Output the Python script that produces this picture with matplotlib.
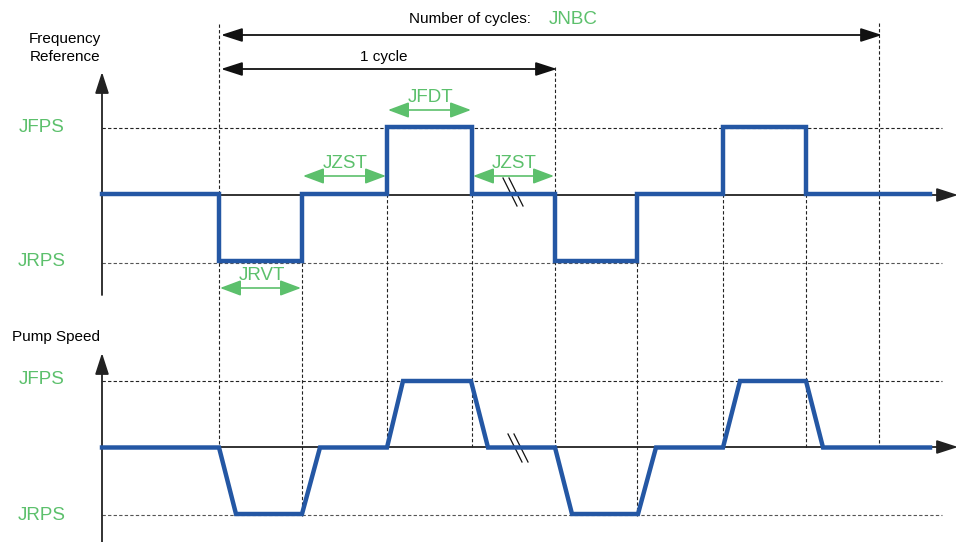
import matplotlib
matplotlib.use("Agg")
import matplotlib.pyplot as plt
from matplotlib.patches import FancyArrowPatch

plt.rcParams['font.family'] = ['Liberation Sans', 'DejaVu Sans']

# ---- data (time in diagram units, levels: 1 = JFPS, 0 = stop, -1 = JRPS) ----
t_start, t_end = 102, 930
events = [219, 302, 387, 472, 555, 637, 723, 806]   # frequency reference step times
ref_levels = [0, -1, 0, 1, 0, -1, 0, 1, 0]
pump_t = [102, 219, 236, 302, 320, 387, 403, 471, 488, 555, 572, 638, 656, 723, 740, 806, 823, 930]
pump_v = [0, 0, -1, -1, 0, 0, 1, 1, 0, 0, -1, -1, 0, 0, 1, 1, 0, 0]
t_final = 879
level_labels = ["JFPS", "JRPS"]
param_labels = ["JRVT", "JZST", "JFDT", "JZST"]

W, H = 965, 542
BLUE = '#2457A4'
GREEN = '#5CC06C'

fig = plt.figure(figsize=(W / 100, H / 100), dpi=100)
ov = fig.add_axes([0, 0, 1, 1])
ov.set_xlim(0, W); ov.set_ylim(H, 0); ov.axis('off')

def panel(y_hi, y_lo):
    ax = fig.add_axes([0, 1 - y_lo / H, 1, (y_lo - y_hi) / H])
    ax.set_xlim(0, W); ax.set_ylim(-1, 1); ax.axis('off')
    ax.patch.set_alpha(0)
    return ax

ax_top = panel(127, 261)
ax_bot = panel(381, 514)

# step signal
xs = [t_start] + events + [t_end]
ys = ref_levels + [ref_levels[-1]]
ax_top.step(xs, ys, where='post', color=BLUE, lw=3.2, clip_on=False,
            solid_joinstyle='miter', zorder=5)
ax_bot.plot(pump_t, pump_v, color=BLUE, lw=3.2, clip_on=False, zorder=5,
            solid_joinstyle='miter')

# level dashed lines (pixel overlay)
for (yh, yl) in [(128, 263), (381, 515)]:
    ov.plot([t_start, 942], [yh, yh], ls=(0, (3, 2)), color='#222', lw=0.8, zorder=1)
    ov.plot([t_start, 942], [yl, yl], ls=(0, (3, 2)), color='#555', lw=0.8, zorder=1)

# vertical dashed lines
vspans = {219: (24, 447), 302: (263, 516), 387: (194, 447), 472: (194, 447),
          555: (67, 447), 637: (263, 516), 723: (194, 447), 806: (194, 449)}
for x in events:
    y0, y1 = vspans[x]
    ov.plot([x, x], [y0, y1], ls=(0, (3, 2)), color='#222', lw=0.8, zorder=1)
ov.plot([t_final, t_final], [23, 447], ls=(0, (3, 2)), color='#222', lw=0.8, zorder=1)

def arrow(x0, y0, x1, y1, style, color, lw, ms, z=6):
    ov.add_patch(FancyArrowPatch((x0, y0), (x1, y1), arrowstyle=style, color=color,
                                 lw=lw, mutation_scale=ms, shrinkA=0, shrinkB=0, zorder=z))

black_head = '-|>,head_length=1.3,head_width=0.42'
# axes
for (yz, ytop, ybot) in [(195, 72, 295), (447, 353, 542)]:
    arrow(102, ybot, 102, ytop, black_head, '#222', 1.3, 10, 2)
    arrow(102, yz, 958, yz, black_head, '#222', 1.3, 10, 2)

# cycle arrows
both_black = '<|-|>,head_length=1.3,head_width=0.42'
arrow(221, 35, 882, 35, both_black, '#111', 1.3, 10)
arrow(221, 69, 557, 69, both_black, '#111', 1.3, 10)
ov.text(470, 19, "Number of cycles:", fontsize=11, ha='center', va='center')
ov.text(573, 19, "JNBC", fontsize=13.5, color=GREEN, ha='center', va='center')
ov.text(384, 57, "1 cycle", fontsize=11, ha='center', va='center')

# green parameter arrows
both_green = '<|-|>,head_length=1.6,head_width=0.6'
gspans = [(events[0], events[1], 288), (events[1], events[2], 176),
          (events[2], events[3], 110), (events[3], events[4], 176)]
for (a, b, y), lab in zip(gspans, param_labels):
    arrow(a + 1, y, b - 1, y, both_green, GREEN, 1.2, 8)
    ov.text((a + b) / 2 + 1, y - 12, lab, fontsize=13.5, color=GREEN, ha='center', va='center')

# break marks
for (xc, yc) in [(513, 192), (518, 448)]:
    for dx in (-3, 3):
        ov.plot([xc + dx - 7, xc + dx + 7], [yc - 14, yc + 14], color='#111', lw=0.9, zorder=7)

# axis titles and level labels
ov.text(65, 39, "Frequency", fontsize=11, ha='center', va='center')
ov.text(65, 57, "Reference", fontsize=11, ha='center', va='center')
ov.text(56, 337, "Pump Speed", fontsize=11, ha='center', va='center')
for y, lab in [(127, level_labels[0]), (262, level_labels[1]),
               (379, level_labels[0]), (515, level_labels[1])]:
    ov.text(42, y, lab, fontsize=13.5, color=GREEN, ha='center', va='center')

fig.savefig("out.png", dpi=100)
